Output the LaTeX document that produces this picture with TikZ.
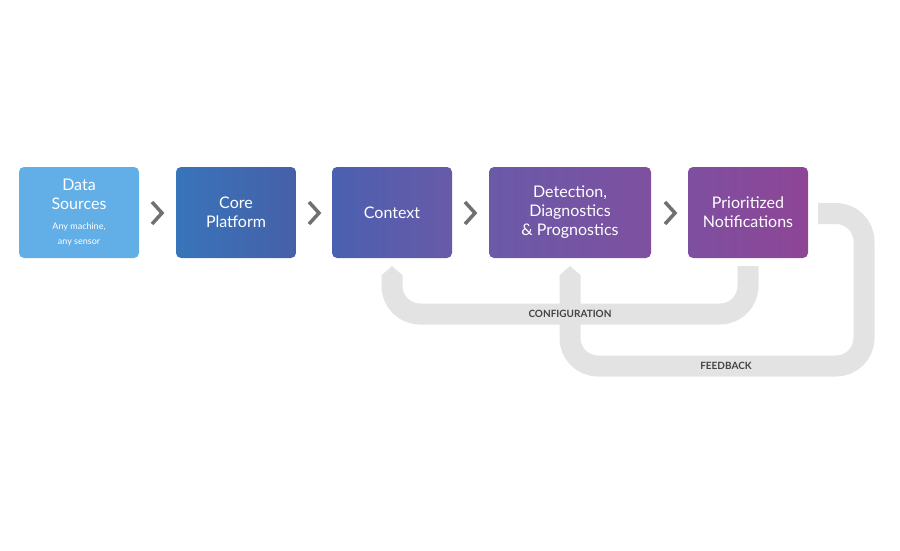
\documentclass[tikz,border=0pt]{standalone}
\usepackage{fontspec}
\setmainfont{Lato}
\usetikzlibrary{positioning,arrows.meta}
\definecolor{bandgray}{HTML}{E3E3E3}
\definecolor{chev}{HTML}{707070}
\definecolor{labgray}{HTML}{444444}
\definecolor{srcblue}{HTML}{62AEE6}
\definecolor{coreA}{HTML}{3874BA}
\definecolor{coreB}{HTML}{4660A8}
\definecolor{ctxA}{HTML}{4A60B0}
\definecolor{ctxB}{HTML}{685AA8}
\definecolor{detA}{HTML}{6A5AA8}
\definecolor{detB}{HTML}{7E50A0}
\definecolor{prioA}{HTML}{7E4FA0}
\definecolor{prioB}{HTML}{8E4596}
\tikzset{
  stage/.style={rounded corners=5pt, minimum height=91pt, align=center,
    text=white, font=\fontsize{16}{19}\selectfont, inner sep=0pt},
  band/.style={bandgray, line width=21pt, rounded corners=28pt},
  tipped/.style={-{Triangle[length=0pt 0.45, width=0pt 1]}},
  chevron/.style={chev, line width=3.5pt, line join=miter},
  bandlabel/.style={text=labgray, font=\bfseries\fontsize{10}{12}\selectfont}
}
\begin{document}
\begin{tikzpicture}[x=1pt,y=-1pt]
\useasboundingbox (0,0) rectangle (900,550);
% feedback loops
\coordinate (ctxin) at (392,266);
\coordinate (detin) at (570,266);
\coordinate (prioin) at (748,266);
\coordinate (prioout) at (818,213.5);
\draw[band, tipped] (prioin) |- (570,314) -| (ctxin);
\draw[band, tipped] (prioout) -| (864,366) -| (detin);
\node[bandlabel] (conf) at (570,314) {CONFIGURATION};
\node[bandlabel] (fb) at (726,366) {FEEDBACK};
% stages
\node[stage, minimum width=120pt, fill=srcblue] (src) at (79,212.5)
  {Data\\Sources\\[1pt]{\fontsize{9}{11}\selectfont Any machine,}\\[-4pt]{\fontsize{9}{11}\selectfont any sensor}};
\node[stage, minimum width=120pt, left color=coreA, right color=coreB] (core) at (236,212.5) {Core\\Platform};
\node[stage, minimum width=120pt, left color=ctxA, right color=ctxB] (ctx) at (392,212.5) {Context};
\node[stage, minimum width=162pt, left color=detA, right color=detB] (det) at (570,212.5) {Detection,\\Diagnostics\\\& Prognostics};
\node[stage, minimum width=120pt, left color=prioA, right color=prioB] (prio) at (748,212.5) {Prioritized\\Notifications};
% chevrons
\foreach \x in {157,314,470,670}
  \draw[chevron] (\x-5,202) -- (\x+5,213) -- (\x-5,224);
\end{tikzpicture}
\end{document}
